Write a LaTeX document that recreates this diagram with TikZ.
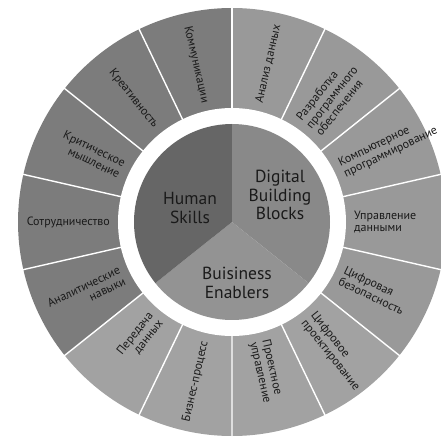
\documentclass[tikz,border=0pt]{standalone}
\usepackage{fontspec}
\setmainfont{PT Sans}
\usetikzlibrary{calc}

\definecolor{humanin}{HTML}{666666}
\definecolor{digitalin}{HTML}{898989}
\definecolor{businessin}{HTML}{939393}
\definecolor{humanout}{HTML}{7c7c7c}
\definecolor{digitalout}{HTML}{999999}
\definecolor{businessout}{HTML}{a2a2a2}
\definecolor{labeltext}{HTML}{1a1a1a}

\tikzset{
  seglabel/.style={font=\fontsize{12}{12.5}\selectfont, text=labeltext, inner sep=0pt},
  corelabel/.style={font=\fontsize{17.5}{18.5}\selectfont, text=labeltext, align=center, inner sep=0pt},
  sepline/.style={white, line width=1.4pt}
}

\begin{document}
\begin{tikzpicture}
\useasboundingbox (-232pt,-220pt) rectangle (208pt,222pt);
% outer ring, 14 segments clockwise from the top
\foreach \a/\c [count=\i] in {90/digitalout, 64.286/digitalout, 38.571/digitalout, 12.857/digitalout, -12.857/digitalout,
  -38.571/businessout, -64.286/businessout, -90/businessout, -115.714/businessout,
  -141.429/humanout, -167.143/humanout, -192.857/humanout, -218.571/humanout, -244.286/humanout} {
 \fill[\c] (0,0) -- (\a:214pt) arc[start angle=\a, end angle=\a-25.714, radius=214pt] -- cycle;
}
\foreach \a in {0,...,13} {
 \draw[sepline] (90-\a*25.714:112pt) -- (90-\a*25.714:216pt);
}
\fill[white] (0,0) circle (114pt);
% core
\fill[digitalin] (0,0) -- (90:98pt) arc[start angle=90, end angle=-38.571, radius=98pt] -- cycle;
\fill[businessin] (0,0) -- (-38.571:98pt) arc[start angle=-38.571, end angle=-141.429, radius=98pt] -- cycle;
\fill[humanin] (0,0) -- (-141.429:98pt) arc[start angle=-141.429, end angle=-270, radius=98pt] -- cycle;
\node[corelabel] (human) at (-42pt,14pt) {Human\\Skills};
\node[corelabel] (digital) at (48pt,27pt) {Digital\\Building\\Blocks};
\node[corelabel] (business) at (5pt,-61pt) {Buisiness\\Enablers};
% segment labels, right half reads outward, left half reads inward
\foreach \m/\t [count=\i] in {77.143/{Анализ данных}, 51.429/{Разработка\\программного\\обеспечения},
  25.714/{Компьютерное\\программирование}, 0/{Управление\\данными}, -25.714/{Цифровая\\безопасность},
  -51.429/{Цифровое\\проектирование}, -77.143/{Проектное\\управление}} {
 \node[seglabel, rotate=\m, anchor=west, align=left] (seg\i) at (\m:122pt) {\t};
}
\foreach \m/\t [count=\i from 8] in {-102.857/{Бизнес-процесс}, -128.571/{Передача\\данных},
  -154.286/{Аналитические\\навыки}, 180/{Сотрудничество}, 154.286/{Критическое\\мышление},
  128.571/{Креативность}, 102.857/{Коммуникации}} {
 \node[seglabel, rotate=\m+180, anchor=east, align=right] (seg\i) at (\m:122pt) {\t};
}
\end{tikzpicture}
\end{document}
